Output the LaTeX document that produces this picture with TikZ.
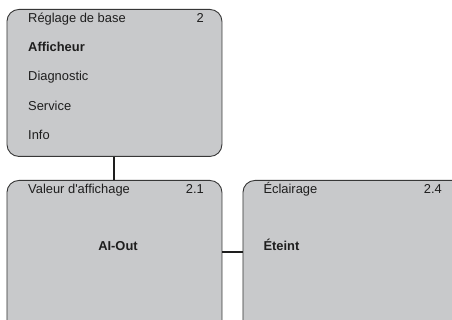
\documentclass[tikz,border=0pt]{standalone}
\usepackage{fontspec}
\setmainfont{Liberation Sans}
\usetikzlibrary{positioning, calc}
\definecolor{boxgray}{RGB}{200,201,203}
\definecolor{edgegray}{RGB}{55,55,55}
\definecolor{txtgray}{RGB}{30,30,30}

\tikzset{
    menubox/.style={draw=edgegray, fill=boxgray, line width=0.9pt, rounded corners=12pt,
                    anchor=north west, inner sep=0pt},
    item/.style={anchor=base west, inner sep=0pt, text=txtgray, font=\fontsize{12.9}{15}\selectfont},
    num/.style={anchor=base east, inner sep=0pt, text=txtgray, font=\fontsize{12.9}{15}\selectfont},
    link/.style={draw=txtgray, line width=2pt}
}

\begin{document}
\begin{tikzpicture}[x=1pt, y=-1pt]
    \clip (0,0) rectangle (452,320);
    \fill[white] (0,0) rectangle (452,320);
    % boxes
    \node[menubox, minimum width=215pt, minimum height=147pt] (base) at (6.5,9) {};
    \node[menubox, minimum width=215pt, minimum height=170pt] (valeur) at (6.5,180) {};
    \node[menubox, minimum width=240pt, minimum height=170pt] (eclair) at (242.5,180) {};
    % menu texts
    \node[item] (reglage) at (28,22.3) {Réglage de base};
    \node[num] (n2) at (204,22.3) {2};
    \node[item, font=\fontsize{12.9}{15}\selectfont\bfseries] (affich) at (28,51.6) {Afficheur};
    \node[item] (diag) at (28,80.9) {Diagnostic};
    \node[item] (serv) at (28,110.2) {Service};
    \node[item] (info) at (28,139.5) {Info};
    \node[item] (valtxt) at (28,193.3) {Valeur d\textquotesingle affichage};
    \node[num] (n21) at (204,193.3) {2.1};
    \node[anchor=base, inner sep=0pt, text=txtgray, font=\fontsize{12.9}{15}\selectfont\bfseries] (aiout) at (118,250.5) {AI-Out};
    \node[item] (ecltxt) at (263.3,193.3) {Éclairage};
    \node[num] (n24) at (442,193.3) {2.4};
    \node[item, font=\fontsize{12.9}{15}\selectfont\bfseries] (eteint) at (263.3,250.5) {Éteint};
    % connectors
    \coordinate (jn) at (0,252.5);
    \draw[link] (base.south -| 113.5,0) -- (valeur.north -| 113.5,0);
    \draw[link] (valeur.east |- jn) -- (eclair.west |- jn);
\end{tikzpicture}
\end{document}
